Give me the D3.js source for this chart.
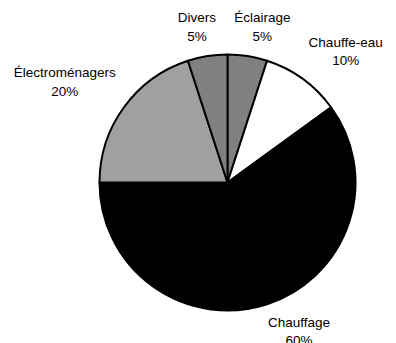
<!DOCTYPE html>
<html>
<head>
<meta charset="utf-8">
<script src="https://cdn.jsdelivr.net/npm/d3@7"></script>
<style>
  html, body { margin: 0; padding: 0; background: #fff; }
  svg { display: block; }
  text { font-family: "Liberation Sans", Arial, sans-serif; font-size: 13.5px; fill: #000; }
</style>
</head>
<body>
<div id="chart"></div>
<script>
// données (ordre horaire depuis midi)
var categories = ["Éclairage", "Chauffe-eau", "Chauffage", "Électroménagers", "Divers"];
var values = [5, 10, 60, 20, 5];
var fills = ["#808080", "#ffffff", "#000000", "#a0a0a0", "#808080"];

var width = 396, height = 343;
var cx = 227.5, cy = 182.5, radius = 128;
var labelRadius = 138;
var lineHeight = 18.5;

var svg = d3.select("#chart").append("svg")
    .attr("width", width)
    .attr("height", height);

var g = svg.append("g").attr("transform", "translate(" + cx + "," + cy + ")");

var total = d3.sum(values);
var data = categories.map(function(c, i) { return { name: c, value: values[i], fill: fills[i] }; });

var pie = d3.pie().sort(null).value(function(d) { return d.value; });
var arc = d3.arc().innerRadius(0).outerRadius(radius);
var arcs = pie(data);

g.selectAll("path.slice")
    .data(arcs)
    .enter().append("path")
    .attr("class", "slice")
    .attr("d", arc)
    .attr("fill", function(d) { return d.data.fill; })
    .attr("stroke", "#000")
    .attr("stroke-width", 2)
    .attr("stroke-linejoin", "round");

// étiquettes : boîte placée à l'extérieur du point médian de l'arc
var labels = g.selectAll("g.label")
    .data(arcs)
    .enter().append("g")
    .attr("class", "label");

labels.append("text")
    .attr("text-anchor", "middle")
    .attr("y", 0)
    .text(function(d) { return d.data.name; });
labels.append("text")
    .attr("text-anchor", "middle")
    .attr("y", lineHeight)
    .text(function(d) { return Math.round(d.data.value / total * 100) + "%"; });

labels.each(function(d) {
    var node = d3.select(this);
    var w = 0;
    node.selectAll("text").each(function() { w = Math.max(w, this.getComputedTextLength()); });
    var h = lineHeight * 2;
    var a = (d.startAngle + d.endAngle) / 2;
    var sx = Math.sin(a), sy = -Math.cos(a);
    var px = labelRadius * sx, py = labelRadius * sy;
    var ox = w / 2 * Math.max(-1, Math.min(1, sx * 3));
    var oy = h / 2 * Math.max(-1, Math.min(1, sy * 3));
    var x = px + ox, y = py + oy;
    // la ligne de base de la première ligne, boîte centrée sur (x, y)
    node.attr("transform", "translate(" + x + "," + (y - h / 2 + 13) + ")");
});
</script>
</body>
</html>
